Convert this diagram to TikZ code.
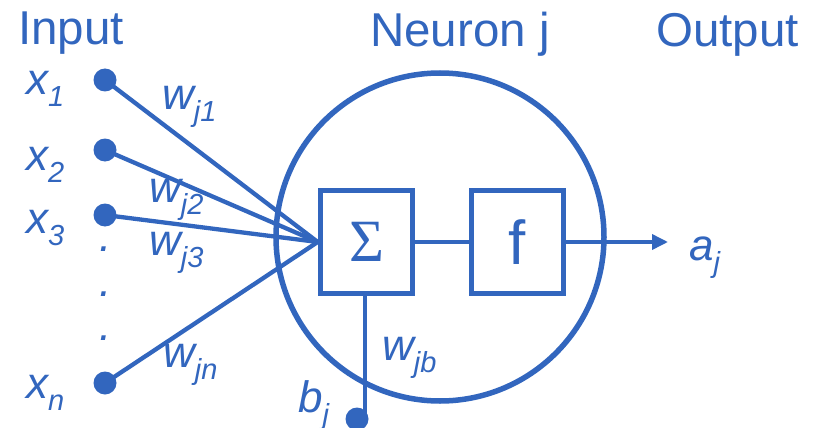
\documentclass[tikz,border=0pt]{standalone}
\usepackage{fontspec}
\setmainfont{Liberation Sans}
\newfontfamily\serifsig{Liberation Serif}
\usetikzlibrary{arrows.meta}
\definecolor{nblue}{RGB}{50,102,190}
\newcommand\mysub[1]{\raisebox{-12pt}{\fontsize{29}{30}\selectfont #1}}
\begin{document}
\begin{tikzpicture}[x=1pt,y=-1pt,
  lbl/.style={text=nblue,font=\fontsize{44}{50}\selectfont,inner sep=0pt,anchor=base west},
  ilbl/.style={lbl,font=\fontsize{44}{50}\selectfont\itshape},
  title/.style={text=nblue,font=\fontsize{47.5}{52}\selectfont,inner sep=0pt,anchor=base west},
  indot/.style={circle,fill=nblue,inner sep=0pt,minimum size=23pt},
  opbox/.style={draw=nblue,line width=5.5pt,minimum width=92pt,minimum height=103pt,inner sep=0pt,text=nblue},
  conn/.style={draw=nblue,line width=4.3pt},
  vdot/.style={text=nblue,font=\fontsize{44}{50}\selectfont\itshape,inner sep=0pt,anchor=center}]
\useasboundingbox (0,0) rectangle (817,428);
% titles
\node[title] (tin) at (18,45) {Input};
\node[title] (tneu) at (370,47) {Neuron j};
\node[title] (tout) at (656,47) {Output};
% neuron circle
\node[circle,draw=nblue,line width=5.5pt,minimum size=328pt,inner sep=0pt] (neuron) at (440,237) {};
% boxes
\node[opbox,font=\fontsize{60}{60}\selectfont\serifsig] (sigma) at (366.5,242) {Σ};
\node[opbox,font=\fontsize{62}{62}\selectfont] (f) at (517.5,242) {f};
% input dots
\node[indot] (d1) at (105,80) {};
\node[indot] (d2) at (105,150) {};
\node[indot] (d3) at (105,215) {};
\node[indot] (dn) at (105,383) {};
\node[indot] (db) at (357,419) {};
% vertical dots
\node[vdot] (v1) at (106,249) {.};
\node[vdot] (v2) at (106,294) {.};
\node[vdot] (v3) at (106,338) {.};
% input labels
\node[ilbl] (x1) at (26,95) {x\mysub{1}};
\node[ilbl] (x2) at (26,170) {x\mysub{2}};
\node[ilbl] (x3) at (26,233) {x\mysub{3}};
\node[ilbl] (xn) at (26,398) {x\mysub{n}};
% weights
\node[ilbl] (w1) at (162,110) {w\mysub{j1}};
\node[ilbl] (w2) at (149,202) {w\mysub{j2}};
\node[ilbl] (w3) at (149,255) {w\mysub{j3}};
\node[ilbl] (wn) at (163,367) {w\mysub{jn}};
\node[ilbl] (wb) at (382,360) {w\mysub{jb}};
\node[ilbl] (bj) at (298,412) {b\mysub{j}};
\node[ilbl] (aj) at (689,260) {a\mysub{j}};
% connectors
\coordinate (outend) at (668,242);
\draw[conn] (d1.center) -- (sigma.west);
\draw[conn] (d2.center) -- (sigma.west);
\draw[conn] (d3.center) -- (sigma.west);
\draw[conn] (dn.center) -- (sigma.west);
\draw[conn] (sigma.east) -- (f.west);
\draw[conn,line width=3.6pt,-{Triangle[length=16pt,width=15pt]}] (f.east) -- (outend);
\draw[conn,line width=3.6pt] ([xshift=-1.5pt]sigma.south) -- ([xshift=-1.5pt]sigma.south |- db.center);
\end{tikzpicture}
\end{document}
